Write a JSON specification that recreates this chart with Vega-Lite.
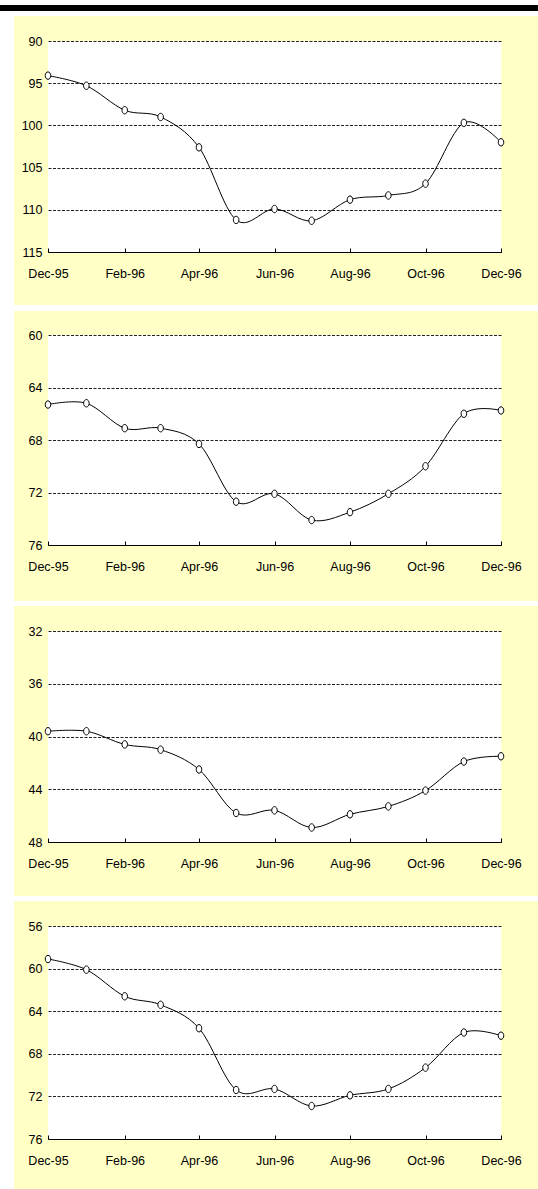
{
  "$schema": "https://vega.github.io/schema/vega-lite/v6.json",
  "padding": 0,
  "background": "#FFFFC6",
  "columns": 2,
  "spacing": 0,
  "bounds": "flush",
  "align": "each",
  "datasets": {
    "e": [],
    "p1": [
      {"m": "1995-12-01T00:00", "v": 94.1}, {"m": "1996-01-01T00:00", "v": 95.3}, {"m": "1996-02-01T00:00", "v": 98.2},
      {"m": "1996-03-01T00:00", "v": 99.0}, {"m": "1996-04-01T00:00", "v": 102.6}, {"m": "1996-05-01T00:00", "v": 111.2},
      {"m": "1996-06-01T00:00", "v": 109.9}, {"m": "1996-07-01T00:00", "v": 111.3}, {"m": "1996-08-01T00:00", "v": 108.8},
      {"m": "1996-09-01T00:00", "v": 108.3}, {"m": "1996-10-01T00:00", "v": 106.9}, {"m": "1996-11-01T00:00", "v": 99.7},
      {"m": "1996-12-01T00:00", "v": 102.0}
    ],
    "p2": [
      {"m": "1995-12-01T00:00", "v": 65.3}, {"m": "1996-01-01T00:00", "v": 65.2}, {"m": "1996-02-01T00:00", "v": 67.1},
      {"m": "1996-03-01T00:00", "v": 67.1}, {"m": "1996-04-01T00:00", "v": 68.3}, {"m": "1996-05-01T00:00", "v": 72.7},
      {"m": "1996-06-01T00:00", "v": 72.1}, {"m": "1996-07-01T00:00", "v": 74.1}, {"m": "1996-08-01T00:00", "v": 73.5},
      {"m": "1996-09-01T00:00", "v": 72.1}, {"m": "1996-10-01T00:00", "v": 70.0}, {"m": "1996-11-01T00:00", "v": 66.0},
      {"m": "1996-12-01T00:00", "v": 65.75}
    ],
    "p3": [
      {"m": "1995-12-01T00:00", "v": 39.6}, {"m": "1996-01-01T00:00", "v": 39.6}, {"m": "1996-02-01T00:00", "v": 40.6},
      {"m": "1996-03-01T00:00", "v": 41.0}, {"m": "1996-04-01T00:00", "v": 42.5}, {"m": "1996-05-01T00:00", "v": 45.8},
      {"m": "1996-06-01T00:00", "v": 45.6}, {"m": "1996-07-01T00:00", "v": 46.9}, {"m": "1996-08-01T00:00", "v": 45.9},
      {"m": "1996-09-01T00:00", "v": 45.3}, {"m": "1996-10-01T00:00", "v": 44.1}, {"m": "1996-11-01T00:00", "v": 41.9},
      {"m": "1996-12-01T00:00", "v": 41.5}
    ],
    "p4": [
      {"m": "1995-12-01T00:00", "v": 59.1}, {"m": "1996-01-01T00:00", "v": 60.1}, {"m": "1996-02-01T00:00", "v": 62.6},
      {"m": "1996-03-01T00:00", "v": 63.4}, {"m": "1996-04-01T00:00", "v": 65.6}, {"m": "1996-05-01T00:00", "v": 71.4},
      {"m": "1996-06-01T00:00", "v": 71.3}, {"m": "1996-07-01T00:00", "v": 72.9}, {"m": "1996-08-01T00:00", "v": 71.9},
      {"m": "1996-09-01T00:00", "v": 71.3}, {"m": "1996-10-01T00:00", "v": 69.3}, {"m": "1996-11-01T00:00", "v": 66.0},
      {"m": "1996-12-01T00:00", "v": 66.3}
    ]
  },
  "concat": [
    {"data": {"name": "e"}, "mark": "point", "width": 48, "height": 5, "view": {"fill": "white"}},
    {"data": {"name": "e"}, "mark": "point", "width": 490, "height": 5, "view": {"fill": "white"}},
    {"data": {"name": "e"}, "mark": "point", "width": 48, "height": 6, "view": {"fill": "black"}},
    {"data": {"name": "e"}, "mark": "point", "width": 490, "height": 6, "view": {"fill": "black"}},
    {"data": {"name": "e"}, "mark": "point", "width": 48, "height": 5, "view": {"fill": "white"}},
    {"data": {"name": "e"}, "mark": "point", "width": 490, "height": 5, "view": {"fill": "white"}},

    {"data": {"name": "e"}, "mark": "point", "width": 14, "height": 25, "view": {"fill": "white"}},
    {"data": {"name": "e"}, "mark": "point", "width": 1, "height": 1},
    {"data": {"name": "e"}, "mark": "point", "width": 14, "height": 211, "view": {"fill": "white"}},
    {
      "width": 453, "height": 211, "view": {"fill": "white"},
      "data": {"name": "p1"},
      "encoding": {
        "x": {"field": "m", "type": "temporal", "title": null, "scale": {"nice": false},
          "axis": {"format": "%b-%y", "values": [{"year": 1995, "month": 12, "date": 1}, {"year": 1996, "month": 2, "date": 1}, {"year": 1996, "month": 4, "date": 1}, {"year": 1996, "month": 6, "date": 1}, {"year": 1996, "month": 8, "date": 1}, {"year": 1996, "month": 10, "date": 1}, {"year": 1996, "month": 12, "date": 1}]}},
        "y": {"field": "v", "type": "quantitative", "title": null,
          "scale": {"domain": [90, 115], "reverse": true, "nice": false, "zero": false},
          "axis": {"values": [90, 95, 100, 105, 110, 115]}}
      },
      "layer": [
        {"mark": {"type": "line", "interpolate": "cardinal", "color": "black", "strokeWidth": 1}},
        {"mark": {"type": "point", "shape": "M-0.75,0A0.75,1 0 1,1 0.75,0A0.75,1 0 1,1 -0.75,0Z", "size": 55, "filled": true, "fill": "white", "stroke": "black", "strokeWidth": 1, "opacity": 1}}
      ]
    },
    {"data": {"name": "e"}, "mark": "point", "width": 14, "height": 53, "view": {"fill": "white"}},
    {"data": {"name": "e"}, "mark": "point", "width": 1, "height": 1},
    {"data": {"name": "e"}, "mark": "point", "width": 48, "height": 6, "view": {"fill": "white"}},
    {"data": {"name": "e"}, "mark": "point", "width": 490, "height": 6, "view": {"fill": "white"}},

    {"data": {"name": "e"}, "mark": "point", "width": 14, "height": 24, "view": {"fill": "white"}},
    {"data": {"name": "e"}, "mark": "point", "width": 1, "height": 1},
    {"data": {"name": "e"}, "mark": "point", "width": 14, "height": 210, "view": {"fill": "white"}},
    {
      "width": 453, "height": 210, "view": {"fill": "white"},
      "data": {"name": "p2"},
      "encoding": {
        "x": {"field": "m", "type": "temporal", "title": null, "scale": {"nice": false},
          "axis": {"format": "%b-%y", "values": [{"year": 1995, "month": 12, "date": 1}, {"year": 1996, "month": 2, "date": 1}, {"year": 1996, "month": 4, "date": 1}, {"year": 1996, "month": 6, "date": 1}, {"year": 1996, "month": 8, "date": 1}, {"year": 1996, "month": 10, "date": 1}, {"year": 1996, "month": 12, "date": 1}]}},
        "y": {"field": "v", "type": "quantitative", "title": null,
          "scale": {"domain": [60, 76], "reverse": true, "nice": false, "zero": false},
          "axis": {"values": [60, 64, 68, 72, 76]}}
      },
      "layer": [
        {"mark": {"type": "line", "interpolate": "cardinal", "color": "black", "strokeWidth": 1}},
        {"mark": {"type": "point", "shape": "M-0.75,0A0.75,1 0 1,1 0.75,0A0.75,1 0 1,1 -0.75,0Z", "size": 55, "filled": true, "fill": "white", "stroke": "black", "strokeWidth": 1, "opacity": 1}}
      ]
    },
    {"data": {"name": "e"}, "mark": "point", "width": 14, "height": 56, "view": {"fill": "white"}},
    {"data": {"name": "e"}, "mark": "point", "width": 1, "height": 1},
    {"data": {"name": "e"}, "mark": "point", "width": 48, "height": 5, "view": {"fill": "white"}},
    {"data": {"name": "e"}, "mark": "point", "width": 490, "height": 5, "view": {"fill": "white"}},

    {"data": {"name": "e"}, "mark": "point", "width": 14, "height": 25, "view": {"fill": "white"}},
    {"data": {"name": "e"}, "mark": "point", "width": 1, "height": 1},
    {"data": {"name": "e"}, "mark": "point", "width": 14, "height": 211, "view": {"fill": "white"}},
    {
      "width": 453, "height": 211, "view": {"fill": "white"},
      "data": {"name": "p3"},
      "encoding": {
        "x": {"field": "m", "type": "temporal", "title": null, "scale": {"nice": false},
          "axis": {"format": "%b-%y", "values": [{"year": 1995, "month": 12, "date": 1}, {"year": 1996, "month": 2, "date": 1}, {"year": 1996, "month": 4, "date": 1}, {"year": 1996, "month": 6, "date": 1}, {"year": 1996, "month": 8, "date": 1}, {"year": 1996, "month": 10, "date": 1}, {"year": 1996, "month": 12, "date": 1}]}},
        "y": {"field": "v", "type": "quantitative", "title": null,
          "scale": {"domain": [32, 48], "reverse": true, "nice": false, "zero": false},
          "axis": {"values": [32, 36, 40, 44, 48]}}
      },
      "layer": [
        {"mark": {"type": "line", "interpolate": "cardinal", "color": "black", "strokeWidth": 1}},
        {"mark": {"type": "point", "shape": "M-0.75,0A0.75,1 0 1,1 0.75,0A0.75,1 0 1,1 -0.75,0Z", "size": 55, "filled": true, "fill": "white", "stroke": "black", "strokeWidth": 1, "opacity": 1}}
      ]
    },
    {"data": {"name": "e"}, "mark": "point", "width": 14, "height": 54, "view": {"fill": "white"}},
    {"data": {"name": "e"}, "mark": "point", "width": 1, "height": 1},
    {"data": {"name": "e"}, "mark": "point", "width": 48, "height": 5, "view": {"fill": "white"}},
    {"data": {"name": "e"}, "mark": "point", "width": 490, "height": 5, "view": {"fill": "white"}},

    {"data": {"name": "e"}, "mark": "point", "width": 14, "height": 25, "view": {"fill": "white"}},
    {"data": {"name": "e"}, "mark": "point", "width": 1, "height": 1},
    {"data": {"name": "e"}, "mark": "point", "width": 14, "height": 213, "view": {"fill": "white"}},
    {
      "width": 453, "height": 213, "view": {"fill": "white"},
      "data": {"name": "p4"},
      "encoding": {
        "x": {"field": "m", "type": "temporal", "title": null, "scale": {"nice": false},
          "axis": {"format": "%b-%y", "values": [{"year": 1995, "month": 12, "date": 1}, {"year": 1996, "month": 2, "date": 1}, {"year": 1996, "month": 4, "date": 1}, {"year": 1996, "month": 6, "date": 1}, {"year": 1996, "month": 8, "date": 1}, {"year": 1996, "month": 10, "date": 1}, {"year": 1996, "month": 12, "date": 1}]}},
        "y": {"field": "v", "type": "quantitative", "title": null,
          "scale": {"domain": [56, 76], "reverse": true, "nice": false, "zero": false},
          "axis": {"values": [56, 60, 64, 68, 72, 76]}}
      },
      "layer": [
        {"mark": {"type": "line", "interpolate": "cardinal", "color": "black", "strokeWidth": 1}},
        {"mark": {"type": "point", "shape": "M-0.75,0A0.75,1 0 1,1 0.75,0A0.75,1 0 1,1 -0.75,0Z", "size": 55, "filled": true, "fill": "white", "stroke": "black", "strokeWidth": 1, "opacity": 1}}
      ]
    },
    {"data": {"name": "e"}, "mark": "point", "width": 14, "height": 50, "view": {"fill": "white"}},
    {"data": {"name": "e"}, "mark": "point", "width": 1, "height": 1}
  ],
  "config": {
    "view": {"stroke": null},
    "axis": {
      "labelFont": "Liberation Sans",
      "labelFontSize": 12.5,
      "labelColor": "black",
      "labelFlush": false,
      "labelOverlap": false,
      "domainColor": "black",
      "tickColor": "black",
      "gridColor": "#222222",
      "gridDash": [3, 1.5],
      "gridWidth": 1
    },
    "axisX": {"grid": false, "domain": true, "ticks": true, "tickSize": -4, "labelPadding": 19},
    "axisY": {"grid": true, "domain": false, "ticks": false, "labelPadding": 6}
  }
}
